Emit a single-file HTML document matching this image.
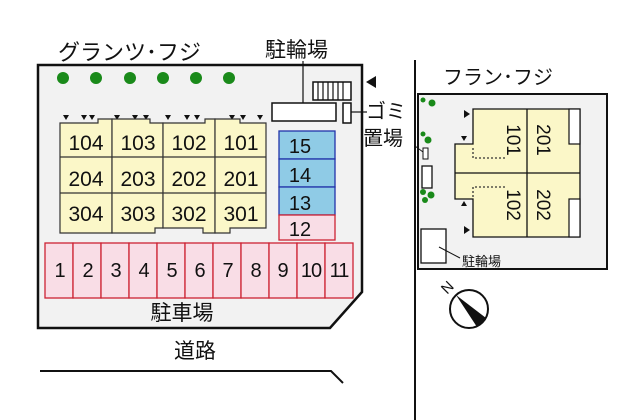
<!DOCTYPE html>
<html><head><meta charset="utf-8"><style>
body{margin:0;background:#fff}
svg{display:block}
text{font-family:"Liberation Sans","Noto Sans CJK JP",sans-serif;fill:#111}
</style></head><body>
<svg width="640" height="420" viewBox="0 0 640 420" xmlns="http://www.w3.org/2000/svg">
<rect width="640" height="420" fill="#fff"/>
<polygon points="38,65 362,65 362,292 330,328 38,328" fill="#f2f2f2" stroke="#111" stroke-width="2.5"/>
<text x="58" y="60" font-size="22">グランツ･フジ</text>
<g fill="#1a8a1a">
<circle cx="63" cy="78" r="6"/><circle cx="96" cy="78" r="6"/><circle cx="130" cy="78" r="6"/><circle cx="163" cy="78" r="6"/><circle cx="196" cy="78" r="6"/><circle cx="229" cy="78" r="6"/>
</g>
<g fill="#111">
<polygon points="63,115 69,115 66,120"/><polygon points="81,115 87,115 84,120"/><polygon points="89,115 95,115 92,120"/>
<polygon points="114,115 120,115 117,120"/><polygon points="132,115 138,115 135,120"/><polygon points="143,115 149,115 146,120"/>
<polygon points="165,115 171,115 168,120"/><polygon points="184,115 190,115 187,120"/><polygon points="194,115 200,115 197,120"/>
<polygon points="229,115 235,115 232,120"/><polygon points="240,115 246,115 243,120"/><polygon points="257,115 263,115 260,120"/>
</g>
<g fill="#fbf7c8" stroke="#333" stroke-width="1.2">
<polygon points="60,123 98,123 98,119 112,119 112,233 60,233"/>
<polygon points="112,119 150,119 150,123 163,123 163,228 155,228 155,233 112,233"/>
<polygon points="163,123 205,123 205,119 215,119 215,233 203,233 203,228 163,228"/>
<polygon points="215,119 240,119 240,123 266,123 266,228 230,228 230,233 215,233"/>
</g>
<g stroke="#333" stroke-width="1.2"><line x1="60" y1="157" x2="266" y2="157"/><line x1="60" y1="193" x2="266" y2="193"/></g>
<g font-size="21" text-anchor="middle">
<text x="86" y="150">104</text><text x="138" y="150">103</text><text x="189" y="150">102</text><text x="241" y="150">101</text>
<text x="86" y="186">204</text><text x="138" y="186">203</text><text x="189" y="186">202</text><text x="241" y="186">201</text>
<text x="86" y="221">304</text><text x="138" y="221">303</text><text x="189" y="221">302</text><text x="241" y="221">301</text>
</g>
<text x="265" y="57" font-size="21">駐輪場</text>
<line x1="303" y1="61" x2="303" y2="112" stroke="#111" stroke-width="1.2"/>
<rect x="272" y="103" width="64" height="18" fill="#fff" stroke="#111" stroke-width="1.5"/>
<rect x="313" y="82" width="38" height="18" fill="#fff" stroke="#111" stroke-width="1.5"/>
<g stroke="#111" stroke-width="1.2"><line x1="318" y1="82" x2="318" y2="100"/><line x1="323" y1="82" x2="323" y2="100"/><line x1="328" y1="82" x2="328" y2="100"/><line x1="333" y1="82" x2="333" y2="100"/><line x1="338" y1="82" x2="338" y2="100"/><line x1="343" y1="82" x2="343" y2="100"/></g>
<polygon points="366,82 376,76 376,88" fill="#111"/>
<rect x="343" y="103" width="8" height="20" fill="#fff" stroke="#111" stroke-width="1.5"/>
<line x1="351" y1="112" x2="367" y2="112" stroke="#111" stroke-width="1.2"/>
<text x="366" y="118" font-size="20">ゴミ</text>
<text x="363" y="145" font-size="20">置場</text>
<g stroke="#2233aa" stroke-width="1.3" fill="#8fcbe6">
<rect x="279" y="131" width="56" height="28"/><rect x="279" y="159" width="56" height="28"/><rect x="279" y="187" width="56" height="28"/>
</g>
<rect x="279" y="215" width="56" height="25" fill="#f9dde6" stroke="#cc2233" stroke-width="1.3"/>
<g font-size="20" text-anchor="middle"><text x="300" y="153">15</text><text x="300" y="182">14</text><text x="300" y="210">13</text><text x="300" y="236">12</text></g>
<g stroke="#cc2233" stroke-width="1.3" fill="#f9dde6">
<rect x="45" y="243" width="28" height="55"/><rect x="73" y="243" width="28" height="55"/><rect x="101" y="243" width="28" height="55"/><rect x="129" y="243" width="28" height="55"/><rect x="157" y="243" width="28" height="55"/><rect x="185" y="243" width="28" height="55"/><rect x="213" y="243" width="28" height="55"/><rect x="241" y="243" width="28" height="55"/><rect x="269" y="243" width="28" height="55"/><rect x="297" y="243" width="28" height="55"/><rect x="325" y="243" width="28" height="55"/>
</g>
<g font-size="20" text-anchor="middle">
<text x="60" y="277">1</text><text x="88" y="277">2</text><text x="116" y="277">3</text><text x="144" y="277">4</text><text x="172" y="277">5</text><text x="200" y="277">6</text><text x="228" y="277">7</text><text x="256" y="277">8</text><text x="283" y="277">9</text><text x="311" y="277" letter-spacing="-1">10</text><text x="339" y="277" letter-spacing="-1">11</text>
</g>
<text x="182" y="320" font-size="21" text-anchor="middle">駐車場</text>
<text x="195" y="358" font-size="21" text-anchor="middle">道路</text>
<polyline points="40,371 331,371 343,383" fill="none" stroke="#111" stroke-width="2"/>
<line x1="415" y1="60" x2="415" y2="420" stroke="#111" stroke-width="2"/>
<rect x="418" y="94" width="189" height="175" fill="#f2f2f2" stroke="#111" stroke-width="2"/>
<text x="443" y="84" font-size="20">フラン･フジ</text>
<polygon points="473,109 580,109 580,237 473,237 473,199 455,199 455,144 473,144" fill="#fbf7c8" stroke="#111" stroke-width="1.3"/>
<line x1="527" y1="109" x2="527" y2="237" stroke="#111" stroke-width="1.3"/>
<line x1="455" y1="173" x2="580" y2="173" stroke="#111" stroke-width="1.3"/>
<rect x="569" y="109" width="11" height="35" fill="#fff" stroke="#111" stroke-width="1.2"/>
<rect x="569" y="199" width="11" height="38" fill="#fff" stroke="#111" stroke-width="1.2"/>
<g stroke="#333" stroke-width="1.3" stroke-dasharray="2,2" fill="none">
<polyline points="473,148 473,158 505,158"/><polyline points="473,197 473,187 505,187"/>
</g>
<g fill="#111">
<polygon points="464,110 470,114 464,118"/><polygon points="461,136 467,136 464,141"/>
<polygon points="461,206 467,206 464,201"/><polygon points="464,226 470,230 464,234"/>
</g>
<g font-size="19" text-anchor="middle">
<text transform="translate(507,140) rotate(90)">101</text>
<text transform="translate(537,140) rotate(90)">201</text>
<text transform="translate(507,205) rotate(90)">102</text>
<text transform="translate(537,205) rotate(90)">202</text>
</g>
<g fill="#1a8a1a">
<circle cx="423" cy="100" r="2.5"/><circle cx="432" cy="103" r="3.5"/>
<circle cx="423" cy="134" r="2.5"/><circle cx="428" cy="140" r="3.5"/>
<circle cx="423" cy="192" r="3"/><circle cx="431" cy="195" r="3.5"/><circle cx="425" cy="200" r="3"/>
</g>
<rect x="423" y="148" width="5" height="11" fill="#fff" stroke="#111" stroke-width="1"/>
<line x1="415" y1="146" x2="423" y2="152" stroke="#111" stroke-width="0.8"/>
<rect x="422" y="166" width="10" height="22" fill="#fff" stroke="#111" stroke-width="1.3"/>
<rect x="421" y="229" width="25" height="34" fill="#fff" stroke="#111" stroke-width="1.3"/>
<line x1="439" y1="247" x2="460" y2="258" stroke="#111" stroke-width="1"/>
<text x="462" y="266" font-size="13">駐輪場</text>
<circle cx="469" cy="309" r="19" fill="#fff" stroke="#111" stroke-width="2"/>
<polygon points="456,295 486,318 477,327" fill="#111"/>
<text transform="translate(451,291) rotate(-45)" font-size="15" text-anchor="middle">N</text>
</svg>
</body></html>
